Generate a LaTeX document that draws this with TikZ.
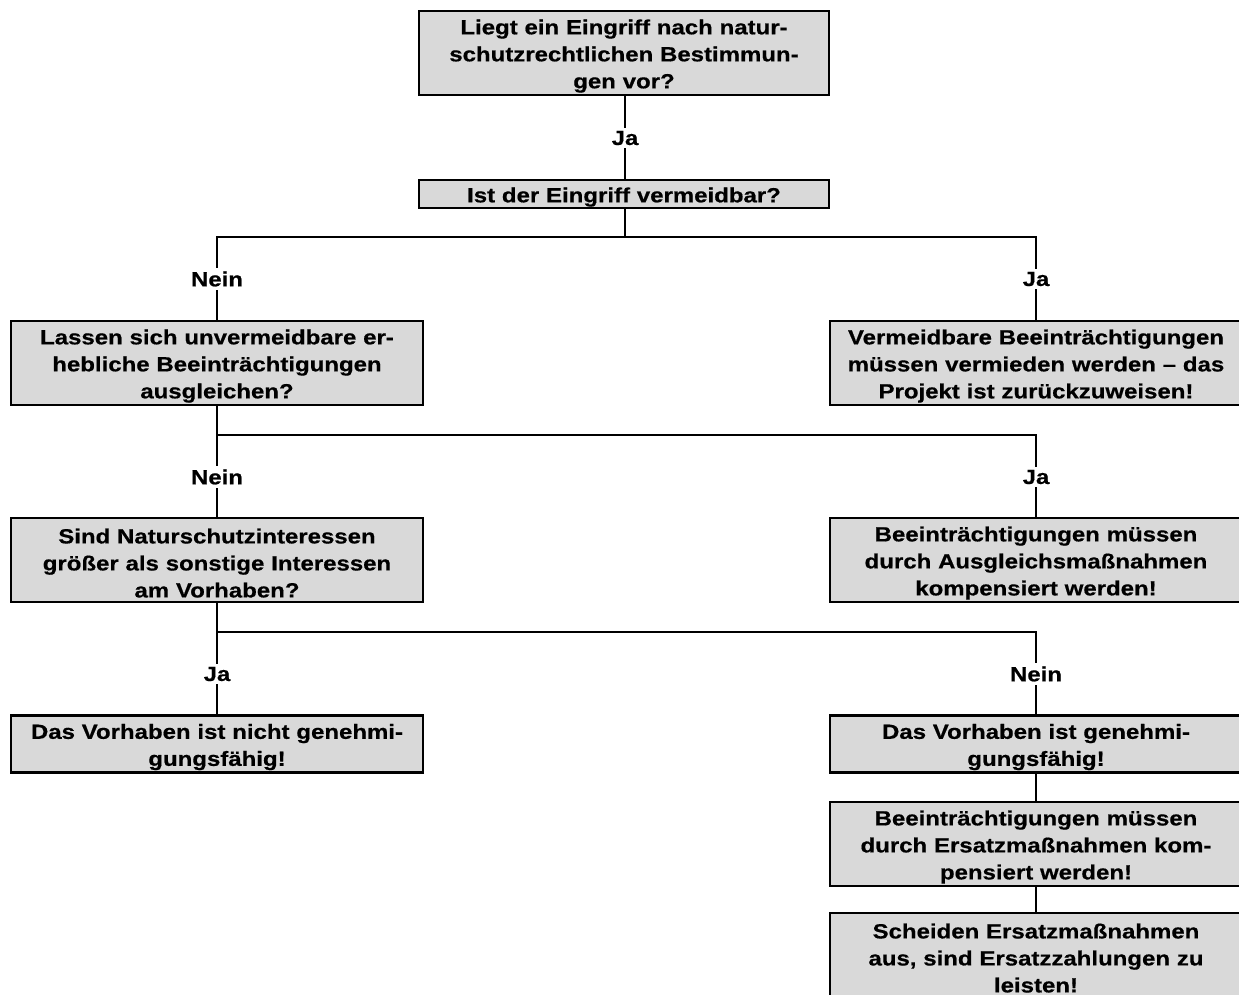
\documentclass[tikz,border=0pt]{standalone}
\usepackage{fontspec}
\setmainfont{Liberation Sans}[FakeStretch=1.17, BoldFeatures={FakeBold=0.6}]
\definecolor{boxgrey}{HTML}{D9D9D9}
\tikzset{
  box/.style={draw=black, line width=2.6pt, fill=boxgrey, rectangle,
    inner xsep=6pt, inner ysep=0pt, text width=398pt, align=center,
    minimum width=412pt, font=\fontsize{20.5}{27}\selectfont\bfseries,
    execute at begin node={\rule{0pt}{21pt}}},
  conn/.style={draw=black, line width=2.3pt},
  lbl/.style={fill=white, inner sep=3pt, font=\fontsize{20.5}{27}\selectfont\bfseries}
}
\begin{document}
\begin{tikzpicture}[x=1pt,y=-1pt]
\useasboundingbox (0,0) rectangle (1239,994);
\clip (0,0) rectangle (1239,994);
% boxes
\node[box, minimum height=84pt, minimum width=408pt] (q1) at (624,53) {Liegt ein Eingriff nach natur-\\schutzrechtlichen Bestimmun-\\gen vor?};
\node[box, minimum height=28pt, minimum width=408pt] (q2) at (624,194) {Ist der Eingriff vermeidbar?};
\node[box, minimum height=84pt] (l1) at (217,363) {Lassen sich unvermeidbare er-\\hebliche Beeinträchtigungen\\ausgleichen?};
\node[box, minimum height=84pt] (r1) at (1036,363) {Vermeidbare Beeinträchtigungen\\müssen vermieden werden – das\\Projekt ist zurückzuweisen!};
\node[box, minimum height=84pt] (l2) at (217,560) {Sind Naturschutzinteressen\\größer als sonstige Interessen\\am Vorhaben?};
\node[box, minimum height=84pt] (r2) at (1036,560) {Beeinträchtigungen müssen\\durch Ausgleichsmaßnahmen\\kompensiert werden!};
\node[box, minimum height=57pt] (l3) at (217,744) {Das Vorhaben ist nicht genehmi-\\gungsfähig!};
\node[box, minimum height=57pt] (r3) at (1036,744) {Das Vorhaben ist genehmi-\\gungsfähig!};
\node[box, minimum height=84pt] (r4) at (1036,844) {Beeinträchtigungen müssen\\durch Ersatzmaßnahmen kom-\\pensiert werden!};
\node[box, minimum height=84pt] (r5) at (1036,955) {Scheiden Ersatzmaßnahmen\\aus, sind Ersatzzahlungen zu\\leisten!};
% junctions
\coordinate (j1) at (625,237);
\coordinate (j2) at (217,435);
\coordinate (j3) at (217,632);
% connectors
\draw[conn] (q1.south -| j1) -- (q2.north -| j1);
\draw[conn] (q2.south -| j1) -- (j1);
\draw[conn] (l1.north) |- (j1) -| (r1.north);
\draw[conn] (l1.south) -- (j2) -| (r2.north);
\draw[conn] (j2) -- (l2.north);
\draw[conn] (l2.south) -- (j3) -| (r3.north);
\draw[conn] (j3) -- (l3.north);
\draw[conn] (r3.south) -- (r4.north);
\draw[conn] (r4.south) -- (r5.north);
% labels
\node[lbl] (a1) at (625,138) {Ja};
\node[lbl] (a2) at (217,279) {Nein};
\node[lbl] (a3) at (1036,279) {Ja};
\node[lbl] (a4) at (217,477) {Nein};
\node[lbl] (a5) at (1036,477) {Ja};
\node[lbl] (a6) at (217,674) {Ja};
\node[lbl] (a7) at (1036,674) {Nein};
\end{tikzpicture}
\end{document}
